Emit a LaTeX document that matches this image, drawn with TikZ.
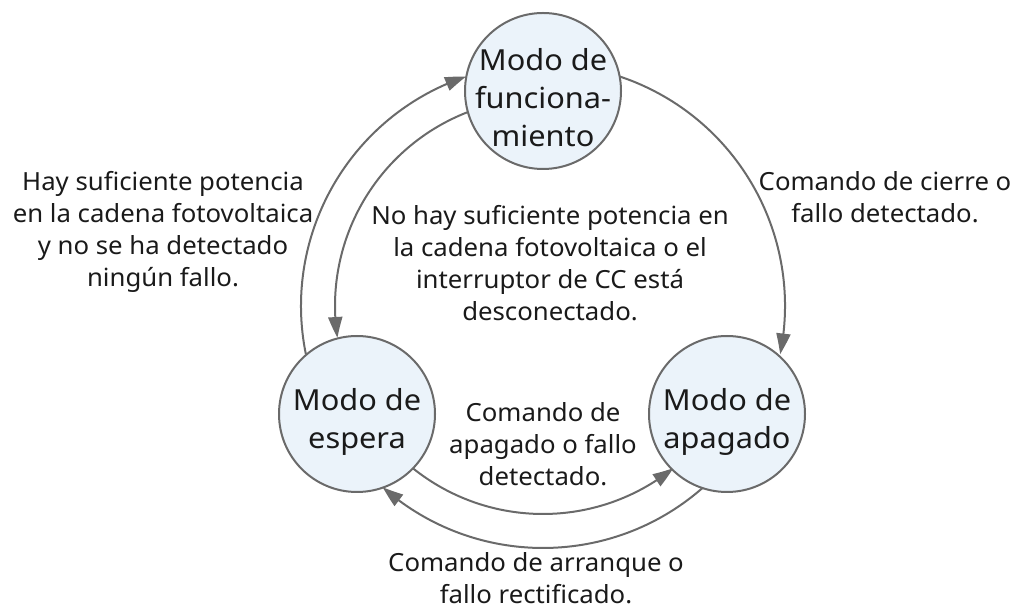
\documentclass[tikz,border=0pt]{standalone}
\usepackage{fontspec}
\setmainfont{Noto Sans}
\newfontfamily\lblfont[FakeStretch=1.03]{Noto Sans}
\newfontfamily\circfont[FakeStretch=1.06]{Noto Sans}
\usetikzlibrary{arrows.meta,bending,calc}
\definecolor{cfill}{HTML}{EBF3FA}
\definecolor{cline}{HTML}{6A6A6A}
\definecolor{ctext}{HTML}{1A1A1A}
\tikzset{
  state/.style={circle, draw=cline, line width=2pt, fill=cfill, minimum size=156pt, inner sep=0pt},
  stxt/.style={align=center, text=ctext, font=\circfont\fontsize{29}{38}\selectfont, inner sep=0pt},
  lbl/.style={align=center, text=ctext, font=\lblfont\fontsize{25}{32}\selectfont, inner sep=0pt},
  arr/.style={draw=cline, line width=2pt, -{Triangle[length=21pt,width=14pt,bend]}},
}
\begin{document}
\begin{tikzpicture}[x=1pt,y=1pt]
\useasboundingbox (0,0) rectangle (1014,610);
\coordinate (O) at (543,304);
% arcs
\coordinate (s1) at ($(O)+(71.5:242)$);
\coordinate (s2) at ($(O)+(191.5:242)$);
\coordinate (s3) at ($(O)+(111.2:208)$);
\coordinate (s4) at ($(O)+(231.2:208)$);
\coordinate (s5) at ($(O)+(311.5:242)$);
\draw[arr] (s1) arc[start angle=71.5, end angle=-11.5, radius=242];
\draw[arr] (s2) arc[start angle=191.5, end angle=108.5, radius=242];
\draw[arr] (s3) arc[start angle=111.2, end angle=188.8, radius=208];
\draw[arr] (s4) arc[start angle=231.2, end angle=308.8, radius=208];
\draw[arr] (s5) arc[start angle=311.5, end angle=228.5, radius=242];
% states
\node[state, label={[stxt, yshift=-7pt]center:Modo de\\funciona-\\miento}] (run) at (543,519) {};
\node[state, label={[stxt, yshift=-8pt]center:Modo de\\espera}] (wait) at (357,196) {};
\node[state, label={[stxt, yshift=-8pt]center:Modo de\\apagado}] (off) at (727,196) {};
% labels
\node[lbl] (l1) at (163,378) {Hay suficiente potencia\\en la cadena fotovoltaica\\y no se ha detectado\\ningún fallo.};
\node[lbl] (l2) at (550,347) {No hay suficiente potencia en\\la cadena fotovoltaica o el\\interruptor de CC está\\desconectado.};
\node[lbl] (l3) at (885,412.5) {Comando de cierre o\\fallo detectado.};
\node[lbl] (l4) at (543,166) {Comando de\\apagado o fallo\\detectado.};
\node[lbl] (l5) at (536,32) {Comando de arranque o\\fallo rectificado.};
\end{tikzpicture}
\end{document}
